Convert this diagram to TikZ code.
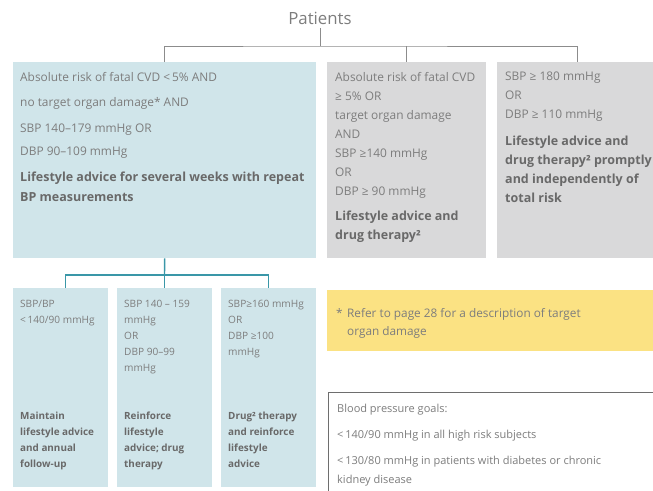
\documentclass[tikz,border=0pt]{standalone}
\usepackage{fontspec}
\setmainfont{Open Sans}
\usetikzlibrary{positioning}
\definecolor{PatientBlue}{RGB}{208,229,234}
\definecolor{PatientGrey}{RGB}{217,217,218}
\definecolor{NoteYellow}{RGB}{251,226,131}
\definecolor{TextGrey}{RGB}{125,125,125}
\definecolor{BoldGrey}{RGB}{105,105,105}
\definecolor{TreeGrey}{RGB}{140,140,140}
\definecolor{TreeTeal}{RGB}{58,151,168}
\definecolor{GoalRule}{RGB}{110,110,110}
\newcommand{\act}[1]{{\fontsize{12.5}{19}\bfseries\color{BoldGrey}#1}}
\newcommand{\smallact}[1]{{\bfseries\color{BoldGrey}#1}}

\tikzset{
  panel/.style={inner sep=0pt, anchor=north west},
  info/.style={
    inner sep=0pt,
    anchor=north west,
    align=left,
    text=TextGrey,
    font=\fontsize{11.9}{19}\selectfont
  },
  small info/.style={info, font=\fontsize{10.1}{16}\selectfont},
  small act/.style={info, font=\fontsize{9.9}{16}\selectfont},
  tree/.style={draw=TreeGrey, line width=0.9pt},
  subtree/.style={draw=TreeTeal, line width=1.4pt}
}

\begin{document}
\begin{tikzpicture}[x=1pt, y=-1pt]
\useasboundingbox (0,0) rectangle (653,490);
\clip (0,0) rectangle (653,490);

\node[text=TextGrey, font=\fontsize{16.8}{18}\selectfont] (patients) at (320,18) {Patients};

\node[panel, fill=PatientBlue, minimum width=303pt, minimum height=196pt] (lowrisk) at (13,62) {};
\node[panel, fill=PatientGrey, minimum width=159pt, minimum height=196pt] (highrisk) at (327,62) {};
\node[panel, fill=PatientGrey, minimum width=160pt, minimum height=196pt] (severe) at (497,62) {};

\node[info] (lowtext) at ([xshift=7pt, yshift=-10pt]lowrisk.north west) {
  Absolute risk of fatal CVD <\,5\% AND\\[6pt]
  no target organ damage* AND\\[7pt]
  SBP 140--179 mmHg OR\\[4pt]
  DBP 90--109 mmHg\\[7pt]
  \act{Lifestyle advice for several weeks with repeat}\\[1pt]
  \act{BP measurements}
};
\node[info] (hightext) at ([xshift=8pt, yshift=-10pt]highrisk.north west) {
  Absolute risk of fatal CVD\\
  ≥ 5\% OR\\
  target organ damage\\
  AND\\
  SBP ≥140 mmHg\\
  OR\\
  DBP ≥ 90 mmHg\\[6pt]
  \act{Lifestyle advice and}\\
  \act{drug therapy²}
};
\node[info] (severetext) at ([xshift=8pt, yshift=-10pt]severe.north west) {
  SBP ≥ 180 mmHg\\
  OR\\
  DBP ≥ 110 mmHg\\[8pt]
  \act{Lifestyle advice and}\\
  \act{drug therapy² promptly}\\
  \act{and independently of}\\
  \act{total risk}
};

\node[panel, fill=PatientBlue, minimum width=95pt, minimum height=199pt] (maintain) at (13,288) {};
\node[panel, fill=PatientBlue, minimum width=95pt, minimum height=199pt] (reinforce) at (117,288) {};
\node[panel, fill=PatientBlue, minimum width=95pt, minimum height=199pt] (drug) at (221,288) {};

\node[small info] (maintaincond) at ([xshift=7pt, yshift=-12pt]maintain.north west) {
  SBP/BP\\
  <\,140/90 mmHg
};
\node[small info] (reinforcecond) at ([xshift=7pt, yshift=-12pt]reinforce.north west) {
  SBP 140 -- 159\\
  mmHg\\
  OR\\
  DBP 90--99\\
  mmHg
};
\node[small info] (drugcond) at ([xshift=7pt, yshift=-12pt]drug.north west) {
  SBP≥160 mmHg\\
  OR\\
  DBP ≥100\\
  mmHg
};
\node[small act] (maintainact) at ([xshift=7pt, yshift=-124pt]maintain.north west) {
  \smallact{Maintain}\\
  \smallact{lifestyle advice}\\
  \smallact{and annual}\\
  \smallact{follow-up}
};
\node[small act] (reinforceact) at ([xshift=7pt, yshift=-124pt]reinforce.north west) {
  \smallact{Reinforce}\\
  \smallact{lifestyle}\\
  \smallact{advice; drug}\\
  \smallact{therapy}
};
\node[small act] (drugact) at ([xshift=7pt, yshift=-124pt]drug.north west) {
  \smallact{Drug² therapy}\\
  \smallact{and reinforce}\\
  \smallact{lifestyle}\\
  \smallact{advice}
};

\node[panel, fill=NoteYellow, minimum width=330pt, minimum height=61pt] (footnote) at (327,290) {};
\node[info, font=\fontsize{11.8}{18}\selectfont] (footnotetext) at ([xshift=9pt, yshift=-18pt]footnote.north west) {
  \makebox[11pt][l]{*}Refer to page 28 for a description of target\\
  \hspace*{11pt}organ damage
};

\node[panel, draw=GoalRule, line width=1pt, fill=white, minimum width=340pt, minimum height=120pt] (goals) at (328,392) {};
\node[info, font=\fontsize{11}{19}\selectfont] (goalstext) at ([xshift=9pt, yshift=-12pt]goals.north west) {
  Blood pressure goals:\\[7pt]
  <\,140/90 mmHg in all high risk subjects\\[7pt]
  <\,130/80 mmHg in patients with diabetes or chronic\\
  kidney disease
};

\coordinate (fork) at (320,46);
\draw[tree] (patients) -- (fork);
\draw[tree] (lowrisk.north) |- (fork) -| (severe.north);
\draw[tree] (fork -| highrisk.north) -- (highrisk.north);

\coordinate (split) at (164.5,275);
\draw[subtree] (lowrisk.south) -- (split);
\draw[subtree] ([xshift=5pt]maintain.north) |- (split) -| (drug.north);
\draw[subtree] (split -| reinforce.north) -- (reinforce.north);
\end{tikzpicture}
\end{document}
